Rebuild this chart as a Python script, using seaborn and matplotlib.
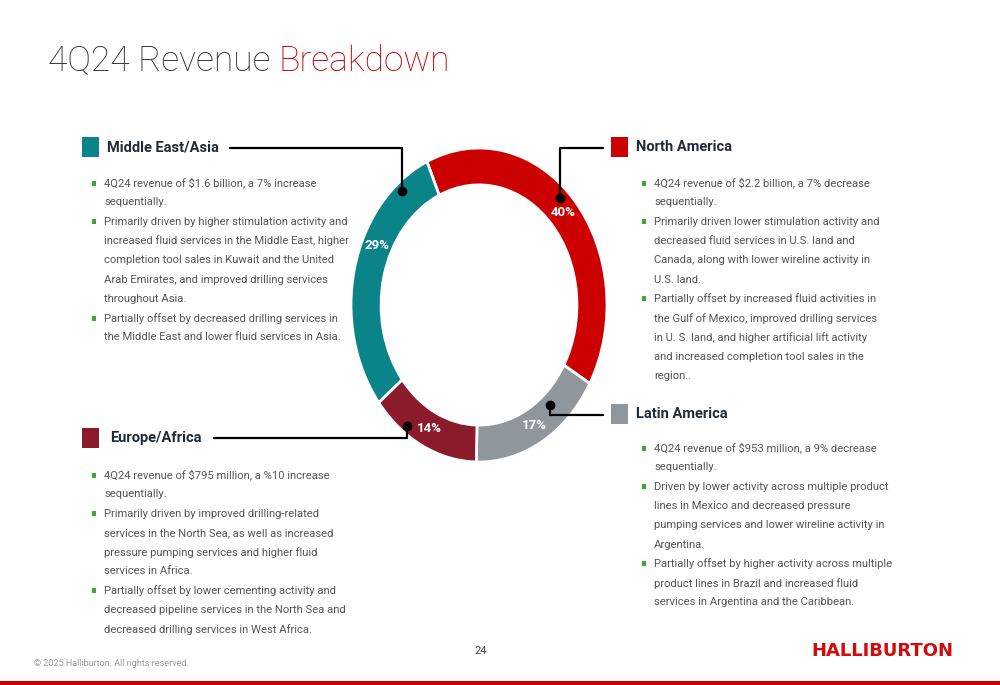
import matplotlib
matplotlib.use("Agg")
import matplotlib.pyplot as plt
from matplotlib.lines import Line2D
from matplotlib.patches import Rectangle
import numpy as np
import seaborn as sns

# ---------------- data ----------------
regions = ["North America", "Latin America", "Europe/Africa", "Middle East/Asia"]
shares = [40, 17, 14, 29]
region_colors = ["#cc0000", "#8f979d", "#8b1a2b", "#0a8389"]

title_main = "4Q24 Revenue "
title_accent = "Breakdown"

na_bullets = [
    ["4Q24 revenue of $2.2 billion, a 7% decrease", "sequentially."],
    ["Primarily driven lower stimulation activity and", "decreased fluid services in U.S. land and",
     "Canada, along with lower wireline activity in", "U.S. land."],
    ["Partially offset by increased fluid activities in", "the Gulf of Mexico, improved drilling services",
     "in U. S. land, and higher artificial lift activity", "and increased completion tool sales in the",
     "region.."],
]
la_bullets = [
    ["4Q24 revenue of $953 million, a 9% decrease", "sequentially."],
    ["Driven by lower activity across multiple product", "lines in Mexico and decreased pressure",
     "pumping services and lower wireline activity in", "Argentina."],
    ["Partially offset by higher activity across multiple", "product lines in Brazil and increased fluid",
     "services in Argentina and the Caribbean."],
]
ea_bullets = [
    ["4Q24 revenue of $795 million, a %10 increase", "sequentially."],
    ["Primarily driven by improved drilling-related", "services in the North Sea, as well as increased",
     "pressure pumping services and higher fluid", "services in Africa."],
    ["Partially offset by lower cementing activity and", "decreased pipeline services in the North Sea and",
     "decreased drilling services in West Africa."],
]
me_bullets = [
    ["4Q24 revenue of $1.6 billion, a 7% increase", "sequentially."],
    ["Primarily driven by higher stimulation activity and", "increased fluid services in the Middle East, higher",
     "completion tool sales in Kuwait and the United", "Arab Emirates, and improved drilling services",
     "throughout Asia."],
    ["Partially offset by decreased drilling services in", "the Middle East and lower fluid services in Asia."],
]

page_number = "24"
copyright_text = "\u00a9 2025 Halliburton. All rights reserved."
logo_text = "HALLIBURTON"

# ---------------- style ----------------
sns.set_theme(style="white")
FONT = ["Roboto", "DejaVu Sans"]
plt.rcParams["font.family"] = FONT

W, H = 1000, 685
fig = plt.figure(figsize=(W / 100, H / 100), dpi=100)
fig.patch.set_facecolor("white")


def fx(x):
    return x / W


def fy(y):
    return 1 - y / H


TEXT_GRAY = "#555555"
HEAD_COL = "#1f2b3a"
BULLET_GREEN = "#3aa935"

# ---------------- title ----------------
t1 = fig.text(fx(48), fy(61), title_main, fontsize=25.5, fontweight="light",
              color="#2e3236", va="center", ha="left")
fig.canvas.draw()
bb = t1.get_window_extent()
fig.text(bb.x1 / W, fy(61), title_accent, fontsize=25.5, fontweight="light",
         color="#c00000", va="center", ha="left")

# ---------------- donut ----------------
ax = fig.add_axes([fx(351), fy(462), 256 / W, 314 / H])
wedges, texts, autotexts = ax.pie(
    shares,
    colors=region_colors,
    startangle=114,
    counterclock=False,
    radius=1.0,
    autopct="%.0f%%",
    pctdistance=0.88,
    wedgeprops=dict(width=0.235, edgecolor="white", linewidth=2),
    textprops=dict(color="white", fontsize=9.5, fontweight="bold"),
)
ax.set_aspect("auto")
ax.set_xlim(-1, 1)
ax.set_ylim(-1, 1)
ax.axis("off")

# the 29% label sits in the upper part of its segment in the original
w_me = wedges[3]
ang = np.deg2rad(w_me.theta1 + 0.39 * (w_me.theta2 - w_me.theta1))
autotexts[3].set_position((0.88 * np.cos(ang), 0.88 * np.sin(ang)))


# ---------------- helpers ----------------
def fig_line(xs, ys, **kw):
    fig.add_artist(Line2D([fx(x) for x in xs], [fy(y) for y in ys],
                          transform=fig.transFigure, color="black", lw=1.6, **kw))


def dot(x, y):
    fig.add_artist(Line2D([fx(x)], [fy(y)], transform=fig.transFigure, marker="o",
                          markersize=6, color="black", lw=0))


def block(square_x, head_x, head_y, name, color, bullets, bullet_x, text_x, first_y):
    fig.add_artist(Rectangle((fx(square_x), fy(head_y + 10)), 17 / W, 20 / H,
                             transform=fig.transFigure, color=color, lw=0))
    fig.text(fx(head_x), fy(head_y), name, fontsize=10.5, fontweight="bold",
             color=HEAD_COL, va="center", ha="left")
    y = first_y
    for lines in bullets:
        fig.add_artist(Rectangle((fx(bullet_x), fy(y + 2.5)), 4 / W, 5 / H,
                                 transform=fig.transFigure, color=BULLET_GREEN, lw=0))
        for ln in lines:
            fig.text(fx(text_x), fy(y), ln, fontsize=8.1, fontweight="normal",
                     color=TEXT_GRAY, va="center", ha="left")
            y += 19.3


block(82, 107, 147, regions[3], region_colors[3], me_bullets, 92, 104, 183)
block(82, 110, 438, regions[2], region_colors[2], ea_bullets, 92, 104, 475)
block(611, 636, 147, regions[0], region_colors[0], na_bullets, 642, 654, 183)
block(611, 636, 414, regions[1], region_colors[1], la_bullets, 642, 654, 448)

# ---------------- connectors ----------------
fig_line([230, 402, 402], [148, 148, 191])
dot(402, 191)
fig_line([603, 560, 560], [148, 148, 198])
dot(560, 198)
fig_line([603, 550, 550], [415, 415, 405])
dot(550, 405)
fig_line([214, 407, 407], [438, 438, 426])
dot(407, 426)

# ---------------- footer ----------------
fig.text(fx(481), fy(651), page_number, fontsize=8, color="#444444", ha="center", va="center")
fig.text(fx(34), fy(664), copyright_text, fontsize=6.5, color="#9a9a9a", ha="left", va="center")
fig.text(fx(953), fy(651), logo_text, fontsize=13, fontweight="bold", color="#d10a0a",
         ha="right", va="center", family=["DejaVu Sans"])
fig.add_artist(Rectangle((0, 0), 1, 4 / H, transform=fig.transFigure, color="#cc0000", lw=0))

fig.savefig("out.png", dpi=100, facecolor="white")
